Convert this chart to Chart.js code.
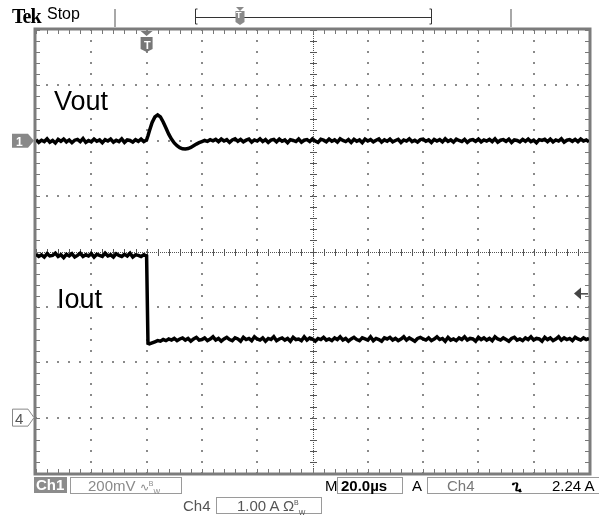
<!DOCTYPE html>
<html><head><meta charset="utf-8">
<script src="https://cdn.jsdelivr.net/npm/chart.js@4"></script>
<style>
body{margin:0;background:#fff;}
#wrap{position:relative;width:599px;height:515px;overflow:hidden;font-family:"Liberation Sans",Arial,sans-serif;}
canvas{position:absolute;left:0;top:0;}
.t{position:absolute;white-space:nowrap;line-height:1;}
.box{position:absolute;border:1px solid #9a9a9a;box-sizing:border-box;}
</style></head><body>
<div id="wrap">
<canvas id="c" width="599" height="515"></canvas>
<div class="t" style="left:12px;top:5px;font:bold 20px 'Liberation Serif',serif;letter-spacing:-1px;">Tek</div>
<div class="t" style="left:47px;top:6px;font-size:16px;">Stop</div>
<div class="t" style="left:54px;top:88px;font-size:27px;">Vout</div>
<div class="t" style="left:57px;top:286px;font-size:27px;">Iout</div>
<div class="t" style="left:16px;top:135px;font:bold 12px 'Liberation Sans';color:#fff;">1</div>
<div class="t" style="left:15px;top:410px;font:15px 'Liberation Sans';color:#555;">4</div>
<div class="t" style="left:144px;top:39px;font:bold 11px 'Liberation Sans';color:#fff;">T</div>
<div class="t" style="left:236px;top:10px;font:bold 9px 'Liberation Sans';color:#fff;">T</div>
<div class="t" style="left:34px;top:477px;width:33px;height:16px;background:#8c8c8c;color:#fff;font-size:15px;font-weight:bold;padding-left:2px;box-sizing:border-box;">Ch1</div>
<div class="box" style="left:70px;top:477px;width:112px;height:17px;"></div>
<div class="t" style="left:88px;top:478px;font-size:15px;color:#8a8a8a;">200mV <span style="font-size:11px">∿<sup style="font-size:7px">B</sup><sub style="font-size:7px">W</sub></span></div>
<div class="t" style="left:325px;top:478px;font-size:15px;">M</div>
<div class="box" style="left:337px;top:477px;width:66px;height:17px;"></div>
<div class="t" style="left:341px;top:478px;font-size:15px;font-weight:bold;">20.0µs</div>
<div class="t" style="left:412px;top:478px;font-size:15px;">A</div>
<div class="box" style="left:427px;top:477px;width:172px;height:17px;border-right:none;"></div>
<div class="t" style="left:447px;top:478px;font-size:15px;color:#777;">Ch4</div>
<div class="t" style="left:512px;top:478px;font-size:15px;font-weight:bold;">ጊ</div>
<div class="t" style="left:552px;top:478px;font-size:15px;">2.24 A</div>
<div class="t" style="left:183px;top:498px;font-size:15px;color:#555;">Ch4</div>
<div class="box" style="left:216px;top:497px;width:106px;height:17px;"></div>
<div class="t" style="left:237px;top:498px;font-size:15px;color:#555;">1.00 A Ω<sup style="font-size:7px">B</sup><sub style="font-size:7px">W</sub></div>
</div>
<script>
const timeUs=[-40,-39,-38,-37,-36,-35,-34,-33,-32,-31,-30,-29,-28,-27,-26,-25,-24,-23,-22,-21,-20,-19,-18,-17,-16,-15,-14,-13,-12,-11,-10,-9,-8,-7,-6,-5,-4,-3,-2,-1,
0,0.5,
1,2,3,4,5,6,7,8,9,10,11,12,13,14,15,16,17,18,19,20,21,22,23,24,25,26,27,28,29,30,31,32,33,34,35,36,37,38,39,40,
41,42,43,44,45,46,47,48,49,50,51,52,53,54,55,56,57,58,59,60,61,62,63,64,65,66,67,68,69,70,71,72,73,74,75,76,77,78,79,80,
81,82,83,84,85,86,87,88,89,90,91,92,93,94,95,96,97,98,99,100,101,102,103,104,105,106,107,108,109,110,111,112,113,114,115,116,117,118,119,120,
121,122,123,124,125,126,127,128,129,130,131,132,133,134,135,136,137,138,139,140,141,142,143,144,145,146,147,148,149,150,151,152,153,154,155,156,157,158,159,160];

const voutMv=[4,-6,2,-3,7,-5,1,-8,5,-2,6,-4,3,-7,2,5,-3,8,-6,1,-4,6,-2,3,-7,4,-1,6,-5,2,-3,7,-6,3,1,-5,4,-2,6,-3,
3,18,
35,66,86,93,86,68,46,24,6,-8,-18,-25,-29,-30,-28,-24,-18,-12,-7,-3,1,-2,4,0,
5,-3,6,-1,4,-6,3,7,-2,5,
-4,2,6,-5,3,-1,7,-3,4,-6,
2,5,-4,6,-2,3,-7,4,1,-3,
6,-5,2,4,-3,7,-1,-6,5,2,
-4,6,-2,3,-5,7,1,-3,4,-6,
5,-2,3,-7,6,-1,4,-4,2,7,
-5,3,-2,6,-4,1,5,-6,3,-1,
7,-3,2,-5,4,6,-2,3,-6,5,
-1,4,-4,7,-2,3,-5,6,1,-3,
5,-6,2,4,-2,6,-4,3,-1,5,
-3,7,-5,2,4,-2,6,-6,3,1,
-4,5,-2,6,-3,2,-7,4,1,5,
-3,6,-4,3,-1,7,-5,2,4,-2,
5,-3,6,-1,3,-4];

const ioutA=[2.95,2.91,2.94,2.90,2.96,2.92,2.93,2.97,2.91,2.94,2.89,2.95,2.92,2.96,2.90,2.93,2.97,2.91,2.94,2.92,
2.96,2.90,2.95,2.93,2.91,2.97,2.92,2.94,2.90,2.96,2.93,2.91,2.95,2.92,2.97,2.90,2.94,2.93,2.91,2.94,
2.92,1.34,
1.33,1.35,1.37,1.39,1.38,1.41,1.39,1.42,1.40,1.43,
1.39,1.42,1.44,1.40,1.43,1.38,1.42,1.45,1.40,1.41,
1.44,1.39,1.42,1.46,1.40,1.43,1.38,1.42,1.45,1.41,
1.39,1.44,1.42,1.38,1.45,1.41,1.43,1.39,1.46,1.42,
1.40,1.44,1.38,1.43,1.41,1.46,1.39,1.42,1.44,1.40,
1.43,1.38,1.45,1.41,1.42,1.39,1.46,1.40,1.44,1.42,
1.38,1.43,1.41,1.45,1.40,1.42,1.39,1.44,1.41,1.46,
1.40,1.43,1.38,1.42,1.45,1.41,1.39,1.44,1.42,1.40,
1.46,1.39,1.43,1.41,1.38,1.44,1.42,1.45,1.40,1.43,
1.39,1.42,1.46,1.40,1.44,1.41,1.38,1.43,1.45,1.42,
1.40,1.44,1.39,1.42,1.46,1.41,1.43,1.38,1.45,1.40,
1.42,1.39,1.44,1.41,1.46,1.40,1.43,1.42,1.38,1.45,
1.41,1.44,1.40,1.43,1.39,1.46,1.42,1.40,1.44,1.41,
1.38,1.43,1.45,1.40,1.42,1.39,1.44,1.41,1.46,1.40,
1.43,1.42,1.38,1.45,1.41,1.44,1.39,1.42,1.46,1.40,
1.44,1.41,1.43,1.39,1.45,1.42,1.40,1.44,1.41,1.43];

const timeDivs=[-40,-20,0,20,40,60,80,100,120,140,160];
const ampDivs=[-1,0,1,2,3,4,5,6,7];
const triggerTimeUs=0;
const triggerLevelA=2.24;

function minorList(p){const out=[];for(let i=0;i<p.length-1;i++){for(let k=0;k<5;k++)out.push(p[i]+(p[i+1]-p[i])*k/5);}out.push(p[p.length-1]);return out;}

const scopeFrame={id:'scopeFrame',
beforeDatasetsDraw(chart){
  const {ctx,chartArea:a,scales:{x,y2}}=chart;
  const xs=timeDivs.map(v=>x.getPixelForValue(v));
  const ys=ampDivs.map(v=>y2.getPixelForValue(v)).sort((p,q)=>p-q);
  const xm=minorList(xs), ym=minorList(ys);
  ctx.save();
  ctx.fillStyle='#8a8a8a';
  for(let i=1;i<xs.length-1;i++){ if(i===5)continue; for(const yv of ym) ctx.fillRect(Math.round(xs[i])-1,Math.round(yv)-1,2,2);}
  for(let j=1;j<ys.length-1;j++){ if(j===4)continue; for(const xv of xm) ctx.fillRect(Math.round(xv)-1,Math.round(ys[j])-1,2,2);}
  const cx=Math.round(xs[5]), cy=Math.round(ys[4]);
  ctx.fillStyle='#555';
  for(let yv=a.top;yv<a.bottom;yv+=2) ctx.fillRect(cx,yv,1,1);
  for(let xv=a.left;xv<a.right;xv+=2) ctx.fillRect(xv,cy,1,1);
  for(const yv of ym) ctx.fillRect(cx-3,Math.round(yv),7,1);
  for(const xv of xm) ctx.fillRect(Math.round(xv),cy-3,1,7);
  ctx.fillStyle='#777';
  for(const xv of xm){ctx.fillRect(Math.round(xv),a.top,1,4);ctx.fillRect(Math.round(xv),a.bottom-4,1,4);}
  for(const yv of ym){ctx.fillRect(a.left,Math.round(yv),4,1);ctx.fillRect(a.right-4,Math.round(yv),4,1);}
  ctx.strokeStyle='#7c7c7c';ctx.lineWidth=3;
  ctx.strokeRect(a.left-1,a.top-1,a.right-a.left+2,a.bottom-a.top+2);
  ctx.restore();
},
afterDraw(chart){
  const {ctx,chartArea:a,scales:{x,y,y2}}=chart;
  ctx.save();
  ctx.strokeStyle='#a8a8a8';ctx.lineWidth=2;
  ctx.beginPath();ctx.moveTo(115,9);ctx.lineTo(115,27);ctx.moveTo(511,9);ctx.lineTo(511,27);ctx.stroke();
  ctx.strokeStyle='#333';ctx.lineWidth=1;
  ctx.beginPath();ctx.moveTo(197.5,9);ctx.lineTo(195.5,9);ctx.lineTo(195.5,24);ctx.lineTo(197.5,24);
  ctx.moveTo(196,17.5);ctx.lineTo(431,17.5);
  ctx.moveTo(429.5,9);ctx.lineTo(431.5,9);ctx.lineTo(431.5,24);ctx.lineTo(429.5,24);ctx.stroke();
  ctx.fillStyle='#8a8a8a';
  ctx.beginPath();ctx.moveTo(236,7);ctx.lineTo(244,7);ctx.lineTo(240,11);ctx.fill();
  ctx.beginPath();ctx.moveTo(235.5,11);ctx.lineTo(244.5,11);ctx.lineTo(244.5,22);ctx.lineTo(240,25);ctx.lineTo(235.5,22);ctx.closePath();ctx.fill();
  const tx=x.getPixelForValue(triggerTimeUs);
  ctx.fillStyle='#777';
  ctx.beginPath();ctx.moveTo(tx-6,a.top+1);ctx.lineTo(tx+6,a.top+1);ctx.lineTo(tx,a.top+6);ctx.fill();
  ctx.beginPath();ctx.moveTo(tx-6,a.top+7);ctx.lineTo(tx+6,a.top+7);ctx.lineTo(tx+6,a.top+19);ctx.lineTo(tx,a.top+22);ctx.lineTo(tx-6,a.top+19);ctx.closePath();ctx.fill();
  const c1=y.getPixelForValue(0);
  ctx.fillStyle='#888';
  ctx.beginPath();ctx.moveTo(12,c1-7);ctx.lineTo(28,c1-7);ctx.lineTo(34,c1);ctx.lineTo(28,c1+7);ctx.lineTo(12,c1+7);ctx.closePath();ctx.fill();
  const c4=y2.getPixelForValue(0);
  ctx.fillStyle='#fff';ctx.strokeStyle='#888';ctx.lineWidth=1;
  ctx.beginPath();ctx.moveTo(12.5,c4-8.5);ctx.lineTo(28,c4-8.5);ctx.lineTo(34,c4);ctx.lineTo(28,c4+8.5);ctx.lineTo(12.5,c4+8.5);ctx.closePath();ctx.fill();ctx.stroke();
  const tl=y2.getPixelForValue(triggerLevelA);
  ctx.fillStyle='#444';
  ctx.beginPath();ctx.moveTo(a.right-15,tl);ctx.lineTo(a.right-8,tl-6);ctx.lineTo(a.right-8,tl+6);ctx.closePath();ctx.fill();
  ctx.fillRect(a.right-8,tl-0.5,7,1.5);
  ctx.restore();
}};

new Chart(document.getElementById('c').getContext('2d'),{
  type:'line',
  data:{datasets:[
    {label:'Vout',data:timeUs.map((t,i)=>({x:t,y:voutMv[i]})),yAxisID:'y',borderColor:'#000',borderWidth:3.5,pointRadius:0,tension:0},
    {label:'Iout',data:timeUs.map((t,i)=>({x:t,y:ioutA[i]})),yAxisID:'y2',borderColor:'#000',borderWidth:3.5,pointRadius:0,tension:0}
  ]},
  options:{responsive:false,animation:false,
    layout:{padding:{left:36,right:10,top:30,bottom:42}},
    plugins:{legend:{display:false},tooltip:{enabled:false}},
    scales:{
      x:{type:'linear',min:-40,max:160,display:false},
      y:{type:'linear',min:-1200,max:400,display:false},
      y2:{type:'linear',min:-1,max:7,display:false}
    }},
  plugins:[scopeFrame]
});
</script>
</body></html>
